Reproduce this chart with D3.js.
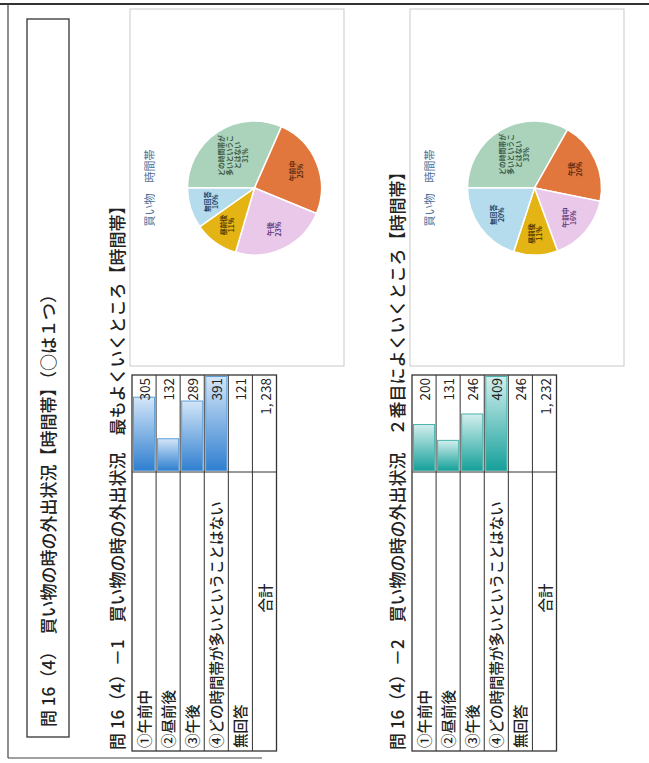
<!DOCTYPE html>
<html>
<head>
<meta charset="utf-8">
<script src="https://cdn.jsdelivr.net/npm/d3@7"></script>
<style>
  body { margin: 0; background: #fff; }
  text { font-family: "Noto Sans CJK JP", "Noto Sans", sans-serif; fill: #222; }
</style>
</head>
<body>
<div id="page"></div>
<script>
// table rows
var categories = ["①午前中", "②昼前後", "③午後", "④どの時間帯が多いということはない"];
var noAnswerLabel = "無回答";
var totalLabel = "合計";

// 問16(4)-1 最もよくいくところ
var values1 = [305, 132, 289, 391];
var noAnswer1 = 121;
var totalText1 = "1, 238";

// 問16(4)-2 ２番目によくいくところ
var values2 = [200, 131, 246, 409];
var noAnswer2 = 246;
var totalText2 = "1, 232";

// pies (slice order as drawn)
var pieLabels1 = [["どの時間帯が", "多いというこ", "とはない"], ["午前中"], ["午後"], ["昼前後"], ["無回答"]];
var pieValues1 = [391, 305, 289, 132, 121];
var piePct1 = ["31%", "25%", "23%", "11%", "10%"];

var pieLabels2 = [["どの時間帯が", "多いというこ", "とはない"], ["午後"], ["午前中"], ["昼前後"], ["無回答"]];
var pieValues2 = [409, 246, 200, 131, 246];
var piePct2 = ["33%", "20%", "16%", "11%", "20%"];

var sliceColors = ["#abd3bb", "#e2773d", "#e9c8ea", "#e4b414", "#b4dcec"];
var sliceText = ["#3c5a48", "#5a2a10", "#5e3b7c", "#4a3800", "#23456e"];

var svgWidth = 649;
var svgHeight = 763;

var svg = d3.select("#page")
  .append("svg")
  .attr("width", svgWidth)
  .attr("height", svgHeight);

svg.append("rect").attr("width", svgWidth).attr("height", svgHeight).attr("fill", "#fff");

// the scanned page is turned a quarter turn: draw it upright, then rotate
var page = svg.append("g")
  .attr("transform", `translate(0, ${svgHeight}) rotate(-90)`);

// page frame
page.append("line").attr("x1", 759).attr("x2", 759).attr("y1", 0).attr("y2", 649)
  .attr("stroke", "#333").attr("stroke-width", 2);
page.append("line").attr("x1", 5).attr("x2", 759).attr("y1", 8).attr("y2", 8)
  .attr("stroke", "#444").attr("stroke-width", 1.2);
page.append("line").attr("x1", 5).attr("x2", 5).attr("y1", 8).attr("y2", 262)
  .attr("stroke", "#444").attr("stroke-width", 1.2);

// title box
page.append("rect")
  .attr("x", 26).attr("y", 27).attr("width", 718).attr("height", 42)
  .attr("fill", "none").attr("stroke", "#333").attr("stroke-width", 1.3);
page.append("text")
  .attr("x", 36).attr("y", 55)
  .attr("font-size", "17px")
  .attr("font-weight", 500)
  .attr("xml:space", "preserve")
  .text("問 16（4）　買い物の時の外出状況【時間帯】（○は１つ）");

function drawSection(top, header, values, noAns, totalText, pieLabels, pieValues, piePct, barColors) {
  var g = page.append("g");

  g.append("text")
    .attr("x", 13).attr("y", top - 8)
    .attr("font-size", "17px")
    .attr("font-weight", 500)
    .attr("xml:space", "preserve")
    .text(header);

  var rows = categories.concat([noAnswerLabel, totalLabel]);
  var y = d3.scaleBand().domain(rows).range([top, top + 144.5]);

  var uLeft = 12, uDiv = 291, uRight = 388;

  var x = d3.scaleLinear()
    .domain([0, d3.max(values)])
    .range([0, 94]);

  var gradId = "grad" + top;
  var grad = svg.append("defs").append("linearGradient")
    .attr("id", gradId).attr("x1", "0").attr("x2", "1").attr("y1", "0").attr("y2", "0");
  grad.append("stop").attr("offset", "0").attr("stop-color", barColors[0]);
  grad.append("stop").attr("offset", "1").attr("stop-color", barColors[1]);

  // bars
  g.selectAll("rect.bar").data(values).enter()
    .append("rect")
    .attr("class", "bar")
    .attr("x", uDiv + 1.5)
    .attr("y", (d, i) => y(rows[i]) + 1.5)
    .attr("width", d => x(d))
    .attr("height", y.bandwidth() - 3)
    .attr("fill", `url(#${gradId})`)
    .attr("stroke", barColors[2])
    .attr("stroke-width", 1);

  // grid
  rows.forEach(function(r, i) {
    if (i > 0) {
      g.append("line").attr("x1", uLeft).attr("x2", uRight)
        .attr("y1", y(r)).attr("y2", y(r))
        .attr("stroke", "#333").attr("stroke-width", 1);
    }
  });
  g.append("rect").attr("x", uLeft).attr("y", top)
    .attr("width", uRight - uLeft).attr("height", y.range()[1] - top)
    .attr("fill", "none").attr("stroke", "#333").attr("stroke-width", 1.3);
  g.append("line").attr("x1", uDiv).attr("x2", uDiv)
    .attr("y1", top).attr("y2", y.range()[1])
    .attr("stroke", "#333").attr("stroke-width", 1);

  // labels
  rows.forEach(function(r, i) {
    var t = g.append("text")
      .attr("y", y(r) + y.bandwidth() - 6)
      .attr("font-size", "14.5px")
      .attr("font-weight", 500)
      .text(r);
    if (r === totalLabel) {
      t.attr("x", 165).attr("text-anchor", "middle");
    } else {
      t.attr("x", uLeft + 3);
    }
  });

  // numbers
  var nums = values.map(String).concat([String(noAns), totalText]);
  nums.forEach(function(n, i) {
    g.append("text")
      .attr("x", uRight - 3)
      .attr("y", y(rows[i]) + y.bandwidth() - 6)
      .attr("text-anchor", "end")
      .attr("font-size", "13.5px")
      .attr("xml:space", "preserve")
      .text(n);
  });

  // pie box
  var boxTop = top - 2;
  g.append("rect")
    .attr("x", 397).attr("y", boxTop)
    .attr("width", 357).attr("height", 214)
    .attr("fill", "#fff").attr("stroke", "#c9c9c9").attr("stroke-width", 1);

  var cx = 575, cy = top + 122.5, r = 67;

  g.append("text")
    .attr("x", cx).attr("y", top + 22)
    .attr("text-anchor", "middle")
    .attr("font-size", "11px")
    .attr("xml:space", "preserve")
    .style("fill", "#4d6d92")
    .text("買い物　時間帯");

  var pie = d3.pie().sort(null);
  var arc = d3.arc().innerRadius(0).outerRadius(r);
  var labelArc = d3.arc().innerRadius(r * 0.68).outerRadius(r * 0.68);
  var bigArc = d3.arc().innerRadius(r * 0.58).outerRadius(r * 0.58);

  var pg = g.append("g").attr("transform", `translate(${cx}, ${cy})`);
  var arcs = pie(pieValues);

  pg.selectAll("path").data(arcs).enter()
    .append("path")
    .attr("d", arc)
    .attr("fill", (d, i) => sliceColors[i])
    .attr("stroke", "#fff")
    .attr("stroke-width", 1.5);

  arcs.forEach(function(d, i) {
    var c = i === 0 ? bigArc.centroid(d) : labelArc.centroid(d);
    var lines = pieLabels[i].concat([piePct[i]]);
    var lh = 8;
    var t = pg.append("text")
      .attr("text-anchor", "middle")
      .attr("font-size", "6.8px")
      .attr("font-weight", 700)
      .style("fill", sliceText[i]);
    lines.forEach(function(s, k) {
      t.append("tspan")
        .attr("x", c[0])
        .attr("y", c[1] + (k - (lines.length - 1) / 2) * lh + 2.5)
        .text(s);
    });
  });
}

drawSection(132, "問 16（4）－1　買い物の時の外出状況　最もよくいくところ【時間帯】",
  values1, noAnswer1, totalText1, pieLabels1, pieValues1, piePct1,
  ["#2f7fd0", "#d4e6f8", "#5d9edc"]);

drawSection(412, "問 16（4）－2　買い物の時の外出状況　２番目によくいくところ【時間帯】",
  values2, noAnswer2, totalText2, pieLabels2, pieValues2, piePct2,
  ["#16a09a", "#d2efee", "#4ab3ad"]);
</script>
</body>
</html>
